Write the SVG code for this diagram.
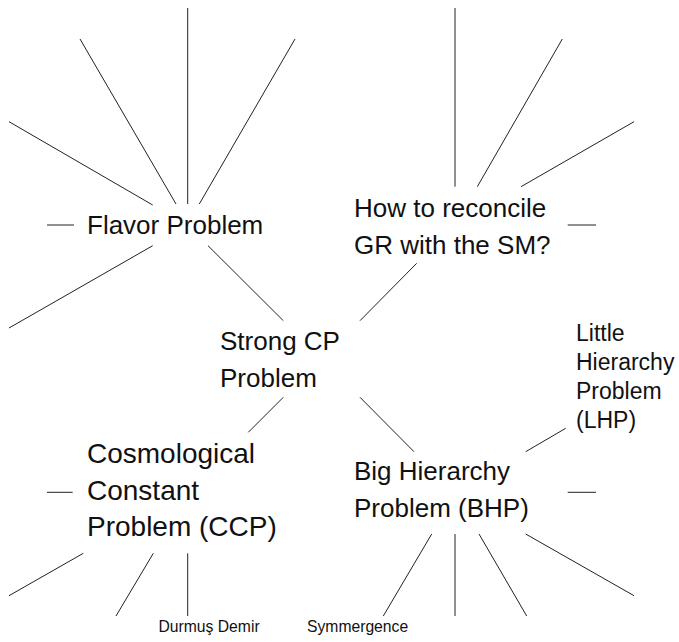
<svg xmlns="http://www.w3.org/2000/svg" width="679" height="642" viewBox="0 0 679 642">
  <style>
    .bg { fill: #ffffff; }
    .lbl { font-family: "Liberation Sans", Arial, Helvetica, sans-serif; fill: #111111; }
    .big { font-size: 26px; }
    .ccp { font-size: 28px; }
    .mid { font-size: 23px; }
    .small { font-size: 15.7px; }
    .ray { stroke: #222222; stroke-width: 1; fill: none; }
  </style>
  <rect class="bg" x="0" y="0" width="679" height="642"/>

  <!-- connectors: rays and links between problems -->
  <g id="connectors" class="ray">
    <!-- rays around Flavor Problem -->
    <line x1="187.7" y1="8" x2="187.7" y2="204"/>
    <line x1="80" y1="39" x2="176" y2="204"/>
    <line x1="295" y1="39" x2="199.3" y2="204"/>
    <line x1="9" y1="121.7" x2="152.7" y2="205"/>
    <line x1="47" y1="225" x2="74" y2="225"/>
    <line x1="152.7" y1="245.7" x2="9" y2="328"/>
    <line x1="208" y1="245.7" x2="283.3" y2="320.7"/>
    <!-- rays around GR / SM -->
    <line x1="455" y1="8" x2="455" y2="186.7"/>
    <line x1="562.3" y1="39" x2="477.3" y2="186.7"/>
    <line x1="634" y1="121.7" x2="521" y2="186.7"/>
    <line x1="567.7" y1="225" x2="596" y2="225"/>
    <line x1="416.7" y1="263.3" x2="360" y2="320.7"/>
    <!-- Strong CP links -->
    <line x1="283.3" y1="397.3" x2="248.3" y2="432.3"/>
    <line x1="360" y1="397.3" x2="414" y2="451.7"/>
    <!-- Little Hierarchy link -->
    <line x1="565.7" y1="428.3" x2="525.7" y2="451.7"/>
    <!-- rays around CCP -->
    <line x1="47" y1="492.3" x2="72.7" y2="492.3"/>
    <line x1="83.3" y1="553.3" x2="9" y2="595.7"/>
    <line x1="153.3" y1="553.3" x2="116" y2="616"/>
    <line x1="187.7" y1="553.3" x2="187.7" y2="616"/>
    <!-- rays around BHP -->
    <line x1="567.7" y1="492.3" x2="596" y2="492.3"/>
    <line x1="431.7" y1="534" x2="383.3" y2="616"/>
    <line x1="455" y1="534" x2="455" y2="616"/>
    <line x1="479" y1="534" x2="526.7" y2="616"/>
    <line x1="525.7" y1="534" x2="634" y2="595.7"/>
  </g>

  <g id="flavor">
    <text class="lbl big" x="87" y="234">Flavor Problem</text>
  </g>

  <g id="gr-sm">
    <text class="lbl big" x="354" y="217">How to reconcile</text>
    <text class="lbl big" x="354" y="253.5">GR with the SM?</text>
  </g>

  <g id="strong-cp">
    <text class="lbl big" x="220" y="350">Strong CP</text>
    <text class="lbl big" x="220" y="386.5">Problem</text>
  </g>

  <g id="lhp">
    <text class="lbl mid" x="576" y="341">Little</text>
    <text class="lbl mid" x="576" y="370">Hierarchy</text>
    <text class="lbl mid" x="576" y="399">Problem</text>
    <text class="lbl mid" x="576" y="428">(LHP)</text>
  </g>

  <g id="ccp">
    <text class="lbl ccp" x="87" y="463">Cosmological</text>
    <text class="lbl ccp" x="87" y="499.5">Constant</text>
    <text class="lbl ccp" x="87" y="536">Problem (CCP)</text>
  </g>

  <g id="bhp">
    <text class="lbl big" x="354" y="480">Big Hierarchy</text>
    <text class="lbl big" x="354" y="516.5">Problem (BHP)</text>
  </g>

  <g id="durmus-demir">
    <text class="lbl small" x="158.5" y="632">Durmuş Demir</text>
  </g>

  <g id="symmergence">
    <text class="lbl small" x="307" y="632">Symmergence</text>
  </g>
</svg>
